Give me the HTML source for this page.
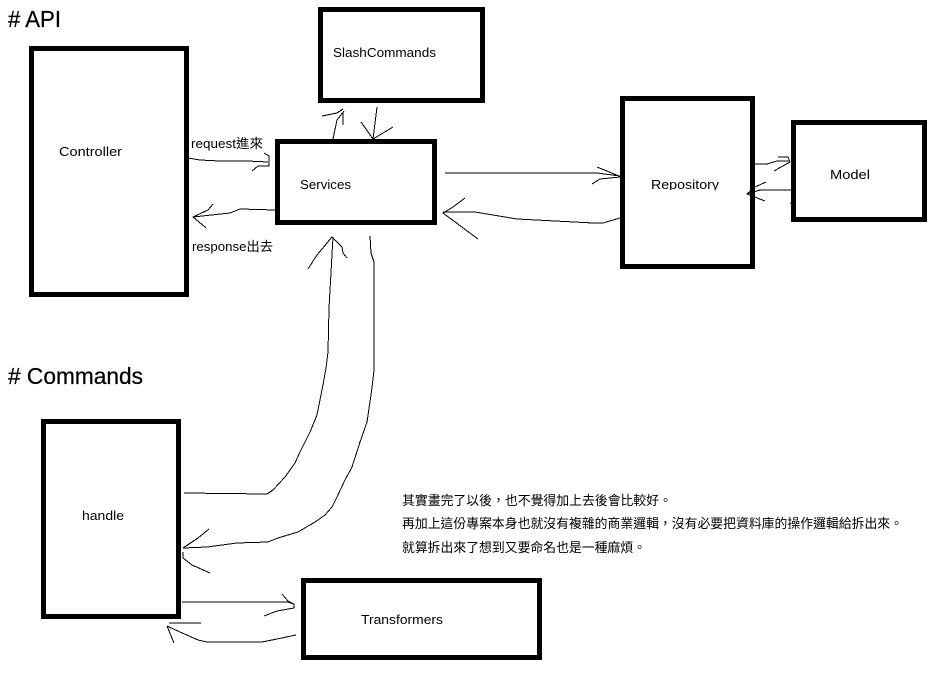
<!DOCTYPE html>
<html>
<head>
<meta charset="utf-8">
<style>
html,body{margin:0;padding:0;background:#fff;}
body{width:949px;height:676px;overflow:hidden;position:relative;}
svg{position:absolute;left:0;top:0;display:block;}
text{font-family:"Liberation Sans","Noto Sans CJK TC",sans-serif;fill:#000;}
.b{fill:#fff;stroke:#000;stroke-width:5;}
.l{fill:none;stroke:#000;stroke-width:1;}
.t{font-size:13px;}
.h{font-size:23px;stroke:#000;stroke-width:.25;}
.c{font-size:13px;}
</style>
</head>
<body>
<svg width="949" height="676" viewBox="0 0 949 676" xmlns="http://www.w3.org/2000/svg">
<rect width="949" height="676" fill="#fff"/>
<g shape-rendering="crispEdges">
<rect class="b" x="31.5" y="48.5" width="155" height="246"/>
<rect class="b" x="320.5" y="9.5" width="162" height="91"/>
<rect class="b" x="277.5" y="141.5" width="157" height="81"/>
<rect class="b" x="622.5" y="98.5" width="130" height="168"/>
<rect class="b" x="793.5" y="122.5" width="131" height="97"/>
<rect class="b" x="43.5" y="421.5" width="135" height="195"/>
<rect class="b" x="303.5" y="580.5" width="236" height="77"/>
</g>
<g class="l" shape-rendering="crispEdges">
<polyline class="l" points="188,158 200,160 220,161 247,161 268,162"/>
<polyline class="l" points="264,153 269,156 269,166 258,166 252,171"/>
<polyline class="l" points="275,210 240,209 230,213 193,217"/>
<polyline class="l" points="213,204 208,210 193,217 205,227 206,228"/>
<polyline class="l" points="333,139 337,120 344,111"/>
<polyline class="l" points="322,116 337,113 343,109"/>
<polyline class="l" points="343,112 343,125"/>
<polyline class="l" points="377,107 373,139"/>
<polyline class="l" points="361,122 373,139 393,127"/>
<polyline class="l" points="445,173 597,173 620,176"/>
<polyline class="l" points="597,167 619,176"/>
<polyline class="l" points="592,184 600,179 620,177"/>
<polyline class="l" points="620,218 603,223 593,223 517,219 475,212 443,212"/>
<polyline class="l" points="465,198 453,207 443,213 478,239"/>
<polyline class="l" points="755,164 767,164 777,161 790,161"/>
<polyline class="l" points="778,157 788,157 790,162 774,171"/>
<polyline class="l" points="791,190 760,190 747,194"/>
<polyline class="l" points="766,182 755,187 747,194 765,201"/>
<polyline class="l" points="790,203 793,203"/>
<polyline class="l" points="184,493 267,494 273,490 285,477 295,463 300,452 310,432 317,415 323,385 326,368 328,352 329,308 333,237"/>
<polyline class="l" points="308,269 317,255 332,237 342,247 343,253 347,258"/>
<polyline class="l" points="370,236 371,253 374,262 374,287 374,370 372,388 367,422 360,442 352,467 345,480 337,497 332,507 325,515 315,522 298,532 278,538 268,542 237,543 207,547 183,548"/>
<polyline class="l" points="209,529 198,538 183,548"/>
<polyline class="l" points="183,552 183,558 192,565 210,573"/>
<polyline class="l" points="182,602 288,602 294,604"/>
<polyline class="l" points="282,594 288,601 294,604 294,608 277,611 264,616"/>
<polyline class="l" points="296,635 277,639 262,642 207,642 198,640 180,632 167,626"/>
<polyline class="l" points="169,623 201,623"/>
<polyline class="l" points="167,626 174,643"/>
</g>
<text class="h" x="8" y="27" textLength="53" lengthAdjust="spacingAndGlyphs"># API</text>
<text class="h" x="8" y="384" textLength="135" lengthAdjust="spacingAndGlyphs"># Commands</text>
<text class="t" x="59" y="156" textLength="63" lengthAdjust="spacingAndGlyphs">Controller</text>
<text class="t" x="333" y="57" textLength="103" lengthAdjust="spacingAndGlyphs">SlashCommands</text>
<text class="t" x="300" y="189" textLength="51" lengthAdjust="spacingAndGlyphs">Services</text>
<text class="t" x="651" y="189" textLength="68" lengthAdjust="spacingAndGlyphs">Repository</text>
<rect x="648" y="190" width="75" height="6" fill="#fff"/>
<text class="t" x="830" y="179" textLength="40" lengthAdjust="spacingAndGlyphs">Model</text>
<text class="t" x="82" y="520" textLength="42" lengthAdjust="spacingAndGlyphs">handle</text>
<text class="t" x="361" y="624" textLength="82" lengthAdjust="spacingAndGlyphs">Transformers</text>
<text class="t" x="191" y="148" textLength="72" lengthAdjust="spacingAndGlyphs">request進來</text>
<text class="t" x="192" y="251" textLength="81" lengthAdjust="spacingAndGlyphs">response出去</text>
<text class="c" x="402" y="505" textLength="270" lengthAdjust="spacingAndGlyphs">其實畫完了以後&#xFF0C;也不覺得加上去後會比較好。</text>
<text class="c" x="402" y="528" textLength="501" lengthAdjust="spacingAndGlyphs">再加上這份專案本身也就沒有複雜的商業邏輯&#xFF0C;沒有必要把資料庫的操作邏輯給拆出來。</text>
<text class="c" x="402" y="552" textLength="244" lengthAdjust="spacingAndGlyphs">就算拆出來了想到又要命名也是一種麻煩。</text>
</svg>
</body>
</html>
